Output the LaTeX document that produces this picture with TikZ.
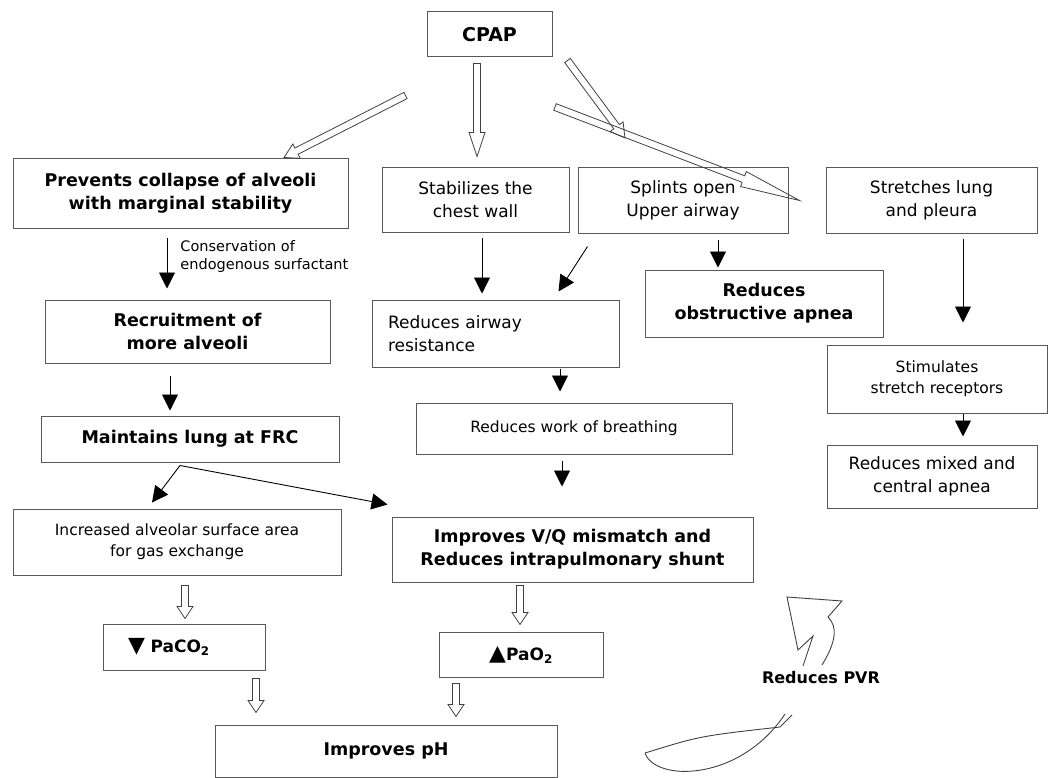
\documentclass[tikz,border=0pt]{standalone}
\usepackage{fontspec}
\setmainfont{DejaVu Sans}
\usetikzlibrary{arrows.meta, calc}

% open (outlined) arrow between two points, optional head length
\newcommand{\fatarrow}[3][14pt]{%
  \draw[hollow] let \p1=#2, \p2=#3,
      \n1={atan2(\y2-\y1,\x2-\x1)}, \n2={veclen(\x2-\x1,\y2-\y1)} in
    ($(\p1)+(\n1+90:3.5pt)$) -- ($(\p1)+(\n1:{\n2-#1})+(\n1+90:3.5pt)$)
    -- ($(\p1)+(\n1:{\n2-#1})+(\n1+90:8pt)$) -- (\p2)
    -- ($(\p1)+(\n1:{\n2-#1})+(\n1-90:8pt)$) -- ($(\p1)+(\n1:{\n2-#1})+(\n1-90:3.5pt)$)
    -- ($(\p1)+(\n1-90:3.5pt)$) -- cycle;}
\newcommand{\tri}[1]{{\fontsize{22}{22}\selectfont #1}}

\begin{document}
\begin{tikzpicture}[
  x=1pt, y=-1pt,
  box/.style={draw=black!65, line width=1pt, align=center, inner sep=0pt, font=\fontsize{17}{23}\selectfont},
  boldbox/.style={box, font=\bfseries\fontsize{17.5}{23}\selectfont},
  smallbox/.style={box, font=\fontsize{15.5}{21}\selectfont},
  arrow/.style={-{Triangle[length=16pt, width=16pt]}, line width=0.9pt},
  hollow/.style={draw=black!75, line width=0.8pt, line join=miter},
  note/.style={align=left, inner sep=0pt, font=\fontsize{14.5}{18}\selectfont}
]
\useasboundingbox (0,0) rectangle (1049,778);

% top row
\node[boldbox, minimum width=125pt, minimum height=45pt, font=\bfseries\fontsize{19}{23}\selectfont] (cpap) at (489.5,34.5) {CPAP};
\node[boldbox, minimum width=335pt, minimum height=69pt] (prevent) at (180.5,193.5) {Prevents collapse of alveoli\\with marginal stability};
\node[box, minimum width=187pt, minimum height=64pt] (chest) at (475.5,200) {Stabilizes the\\chest wall};
\node[box, minimum width=210pt, minimum height=65pt] (splint) at (683,200.5) {Splints open\\Upper airway};
\node[box, minimum width=211pt, minimum height=65pt] (stretch) at (931.5,200.5) {Stretches lung\\and pleura};

% middle
\node[boldbox, minimum width=238pt, minimum height=67pt] (obstr) at (764,303.5) {Reduces\\obstructive apnea};
\node[boldbox, minimum width=285pt, minimum height=63pt] (recruit) at (187.5,331.5) {Recruitment of\\more alveoli};
\node[box, minimum width=247pt, minimum height=67pt, text width=215pt, align=left, inner xsep=16pt] (resist) at (495.5,333.5) {Reduces airway\\resistance};
\node[smallbox, minimum width=220pt, minimum height=68pt] (stim) at (937,379) {Stimulates\\stretch receptors};
\node[smallbox, minimum width=316pt, minimum height=51pt] (work) at (574,428.5) {Reduces work of breathing};
\node[boldbox, minimum width=298pt, minimum height=46pt] (frc) at (190,439) {Maintains lung at FRC};
\node[box, minimum width=210pt, minimum height=63pt] (mixed) at (932,476.5) {Reduces mixed and\\central apnea};
\node[smallbox, minimum width=328pt, minimum height=66pt] (gas) at (177,542) {Increased alveolar surface area\\for gas exchange};
\node[boldbox, minimum width=361pt, minimum height=65pt] (vq) at (572.5,549.5) {Improves V/Q mismatch and\\Reduces intrapulmonary shunt};

% bottom
\node[boldbox, minimum width=162pt, minimum height=46pt, text width=112pt, align=left, inner xsep=25pt, font=\bfseries\fontsize{17}{21}\selectfont] (paco) at (184,647) {\tri{▼} PaCO\textsubscript{2}};
\node[boldbox, minimum width=164pt, minimum height=45pt, font=\bfseries\fontsize{17}{21}\selectfont] (pao) at (521,654.5) {\tri{▲}PaO\textsubscript{2}};
\node[boldbox, minimum width=342pt, minimum height=52pt] (ph) at (386,751) {Improves pH};
\node[font=\bfseries\fontsize{16}{20}\selectfont, inner sep=0pt] (pvr) at (821,678) {Reduces PVR};

\coordinate (kink) at (625,138);
\coordinate (tail) at (555,107);

% open arrows
\fatarrow{([shift={(-21pt,-38pt)}]cpap.south west)}{([shift={(103.5pt,1pt)}]prevent.north)}
\fatarrow[24pt]{([shift={(-12.5pt,-6pt)}]cpap.south)}{([shift={(1.5pt,11pt)}]chest.north)}
\fatarrow{([shift={(15pt,-3pt)}]cpap.south east)}{(kink)}
\fatarrow[60pt]{(tail)}{([xshift=-26pt]stretch.west)}
\fatarrow[12pt]{([shift={(8pt,-10pt)}]gas.south)}{([shift={(1pt,5pt)}]paco.north)}
\fatarrow[12pt]{([shift={(-52.5pt,-3pt)}]vq.south)}{([shift={(-1pt,7pt)}]pao.north)}
\fatarrow[12pt]{([shift={(72pt,-8pt)}]paco.south)}{([shift={(-130pt,12pt)}]ph.north)}
\fatarrow[12pt]{([shift={(-65pt,-6pt)}]pao.south)}{([shift={(70pt,8pt)}]ph.north)}

% solid arrows
\draw[arrow] ([shift={(-13.5pt,-9pt)}]prevent.south) -- node[note, right=13pt, pos=.37]{Conservation of\\endogenous surfactant} ([shift={(-20.5pt,11pt)}]recruit.north);
\draw[arrow] ([shift={(-17.5pt,-12pt)}]recruit.south) -- ([shift={(-20pt,5pt)}]frc.north);
\draw[arrow] ([shift={(-10pt,-3pt)}]frc.south) -- ([shift={(-25pt,6pt)}]gas.north);
\draw[arrow] ([shift={(-10pt,-3pt)}]frc.south) -- ([shift={(-4pt,12pt)}]vq.north west);
\draw[arrow] ([shift={(6.5pt,-5pt)}]chest.south) -- ([shift={(-13.5pt,6pt)}]resist.north);
\draw[arrow] ([shift={(10pt,-13pt)}]splint.south west) -- ([shift={(-61pt,8pt)}]resist.north east);
\draw[arrow] ([shift={(35pt,-6pt)}]splint.south) -- ([shift={(-46pt,2pt)}]obstr.north);
\draw[arrow] ([shift={(31.5pt,-5pt)}]stretch.south) -- ([shift={(26pt,22pt)}]stim.north);
\draw[arrow] ([xshift=26pt]stim.south) -- ([shift={(31pt,8pt)}]mixed.north);
\draw[arrow] ([shift={(64.5pt,-1pt)}]resist.south) -- ([shift={(-14pt,11pt)}]work.north);
\draw[arrow] ([shift={(-12pt,-6pt)}]work.south) -- ([shift={(-10.5pt,30pt)}]vq.north);

% curled sketch marks around PVR
\draw[line width=0.9pt, black!75, line join=miter] (803,666) -- (813,636) -- (798,650) -- (787,597) -- (842,601) -- (828,617)
  .. controls (838,627) and (836,642) .. (822,665);
\draw[line width=0.9pt, black!75] (645,753) .. controls (700,736) .. (780,727) -- (792,715);
\draw[line width=0.9pt, black!75] (645,753) .. controls (655,782) and (740,782) .. (785,714);
\end{tikzpicture}
\end{document}
